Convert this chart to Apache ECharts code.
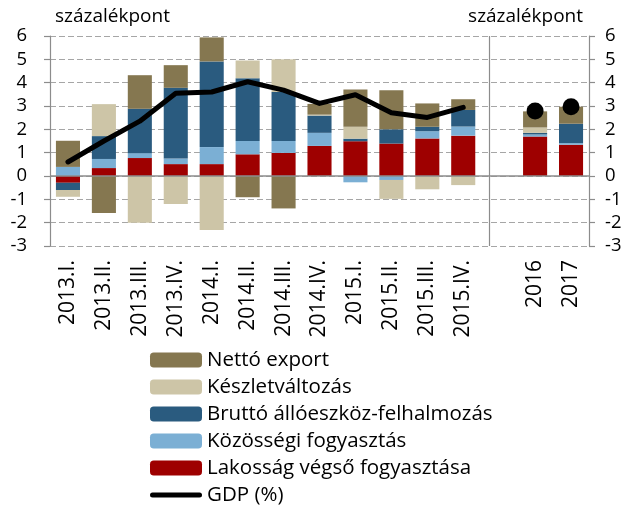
<!DOCTYPE html>
<html>
<head>
<meta charset="utf-8">
<script src="https://cdn.jsdelivr.net/npm/echarts@6/dist/echarts.min.js"></script>
<style>html,body{margin:0;padding:0;background:#fff}#c{width:630px;height:508px}</style>
</head>
<body>
<div id="c"></div>
<script>
const categories = ['2013.I.','2013.II.','2013.III.','2013.IV.','2014.I.','2014.II.','2014.III.','2014.IV.','2015.I.','2015.II.','2015.III.','2015.IV.','','2016','2017'];
const lakossag   = [-0.29, 0.34, 0.77, 0.51, 0.51, 0.93, 0.99, 1.29, 1.49, 1.39, 1.61, 1.73, null, 1.69, 1.34];
const kozossegi  = [0.39, 0.39, 0.21, 0.24, 0.73, 0.57, 0.51, 0.56, -0.27, -0.17, 0.31, 0.39, null, 0.09, 0.07];
const brutto     = [-0.31, 0.98, 1.90, 3.03, 3.67, 2.69, 2.10, 0.74, 0.11, 0.61, 0.19, 0.71, null, 0.07, 0.83];
const keszlet    = [-0.29, 1.37, -2.00, -1.20, -2.31, 0.76, 1.40, 0.04, 0.51, -0.81, -0.57, -0.39, null, 0.23, 0];
const netto      = [1.12, -1.59, 1.44, 0.97, 1.03, -0.91, -1.39, 0.46, 1.60, 1.67, 1.00, 0.46, null, 0.69, 0.73];
const gdpLine    = [0.60, 1.50, 2.35, 3.55, 3.60, 4.04, 3.68, 3.11, 3.48, 2.71, 2.51, 2.94, null, null, null];
const gdpDots    = [null, null, null, null, null, null, null, null, null, null, null, null, null, 2.79, 2.97];
const yTicks     = { min: -3, max: 6, interval: 1 };
const dividerAt  = 12.22;

const FONT = 'Open Sans';
const chart = echarts.init(document.getElementById('c'), null, {renderer: 'canvas'});
const barBase = (name, data, color) => ({
  name, type: 'bar', stack: 'total', data, barCategoryGap: '33%',
  itemStyle: { color }, xAxisIndex: 0, yAxisIndex: 0
});
const yAxisCommon = {
  type: 'value', min: yTicks.min, max: yTicks.max, interval: yTicks.interval,
  axisLine: { show: true, lineStyle: { color: '#8c8c8c', width: 1.2 } },
  axisTick: { show: true, length: 6, lineStyle: { color: '#8c8c8c', width: 1.2 } },
  nameTextStyle: { fontFamily: FONT, fontSize: 19, color: '#000' }
};
const zeroSeries = barBase('Lakosság végső fogyasztása', lakossag, '#9e0000');
zeroSeries.markLine = {
  silent: true, symbol: 'none', label: { show: false },
  lineStyle: { color: '#8c8c8c', type: 'solid', width: 1.5 },
  data: [{ yAxis: 0 }]
};
chart.setOption({
  animation: false,
  grid: { left: 50, right: 41, top: 36, bottom: 262 },
  legend: {
    orient: 'vertical', left: 150, top: 349, padding: 0,
    itemWidth: 52, itemHeight: 15, itemGap: 5,
    textStyle: { fontFamily: FONT, fontSize: 20.5, color: '#000', lineHeight: 22 },
    data: ['Nettó export', 'Készletváltozás', 'Bruttó állóeszköz-felhalmozás', 'Közösségi fogyasztás', 'Lakosság végső fogyasztása',
      { name: 'GDP (%)', icon: 'path://M2.5,0 L49.5,0 A2.5,2.5 0 0 1 49.5,5 L2.5,5 A2.5,2.5 0 0 1 2.5,0 Z' }]
  },
  xAxis: [{
    type: 'category', data: categories,
    axisLine: { show: false }, axisTick: { show: false },
    axisLabel: { rotate: 90, interval: 0, margin: 14, fontFamily: FONT, fontSize: 21, color: '#000' }
  }, {
    type: 'value', min: 0, max: categories.length, show: false
  }],
  yAxis: [Object.assign({}, yAxisCommon, {
    position: 'left', name: 'százalékpont', nameGap: 10,
    axisLabel: { fontFamily: FONT, fontSize: 18.5, color: '#000', margin: 23 },
    nameTextStyle: Object.assign({}, yAxisCommon.nameTextStyle, { align: 'left', padding: [0, 0, 0, 5] }),
    splitLine: { show: true, lineStyle: { color: '#a6a6a6', type: [6, 3], width: 1 } }
  }), Object.assign({}, yAxisCommon, {
    position: 'right', name: 'százalékpont', nameGap: 10,
    axisLabel: { fontFamily: FONT, fontSize: 18.5, color: '#000', margin: 16 },
    nameTextStyle: Object.assign({}, yAxisCommon.nameTextStyle, { align: 'right', padding: [0, 6, 0, 0] }),
    splitLine: { show: false }
  })],
  series: [
    zeroSeries,
    barBase('Közösségi fogyasztás', kozossegi, '#7bafd4'),
    barBase('Bruttó állóeszköz-felhalmozás', brutto, '#2a5b7f'),
    barBase('Készletváltozás', keszlet, '#cdc5a7'),
    barBase('Nettó export', netto, '#857750'),
    {
      name: 'GDP (%)', type: 'line', data: gdpLine, symbol: 'none',
      lineStyle: { color: '#000', width: 5, cap: 'round', join: 'round' },
      itemStyle: { color: '#000' }, z: 5
    },
    {
      name: 'GDP dots', type: 'scatter', data: gdpDots, symbolSize: 17,
      itemStyle: { color: '#000', opacity: 1 }, z: 6
    },
    {
      name: 'divider', type: 'line', xAxisIndex: 1, yAxisIndex: 0, data: [],
      markLine: {
        silent: true, symbol: 'none', label: { show: false },
        lineStyle: { color: '#8c8c8c', type: 'solid', width: 1.2 },
        data: [{ xAxis: dividerAt }]
      }
    }
  ]
});
</script>
</body>
</html>
